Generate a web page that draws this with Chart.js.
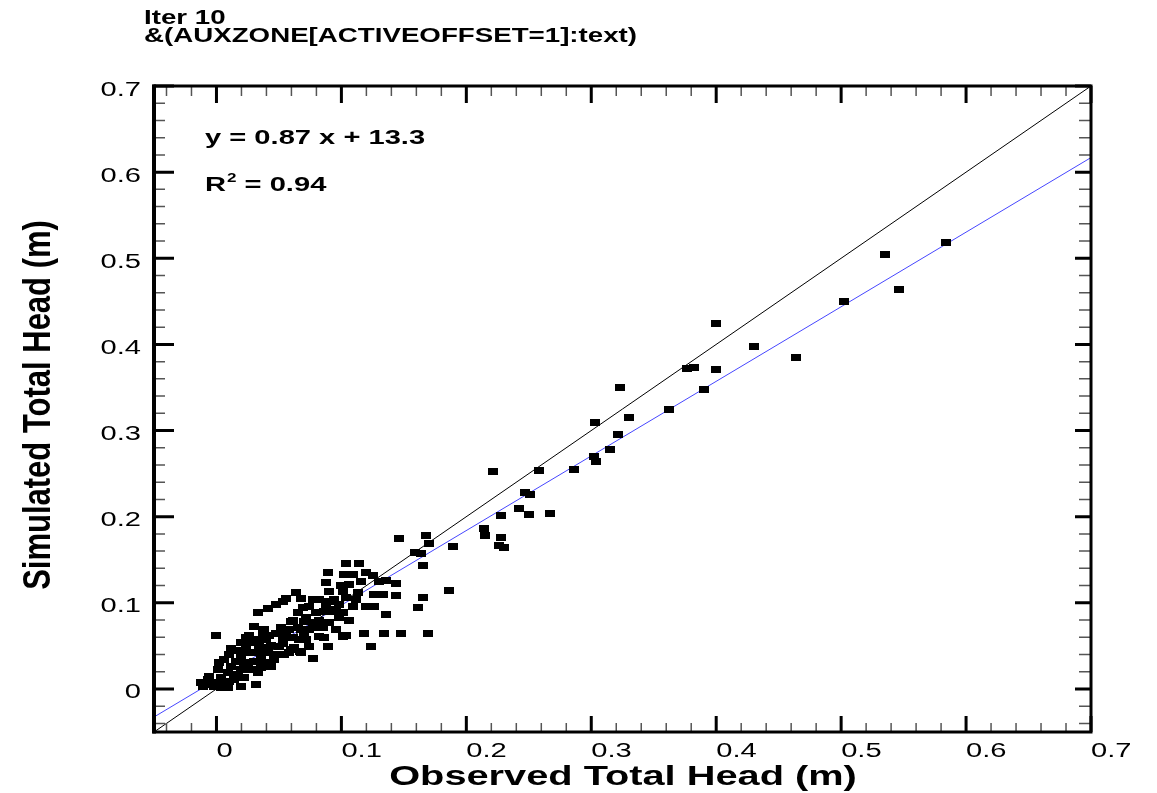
<!DOCTYPE html>
<html>
<head>
<meta charset="utf-8">
<script src="https://cdn.jsdelivr.net/npm/chart.js@4.4.0/dist/chart.umd.min.js"></script>
<style>
body { margin: 0; background: #fff; }
#wrap { width: 1157px; height: 793px; position: relative; }
</style>
</head>
<body>
<div id="wrap"><canvas id="chart"></canvas></div>
<script>
/*------Data--------*/

const observed = [
    0.584, 0.535, 0.546, 0.502, 0.464, 0.430, 0.400, 0.400, 0.377, 0.382,
    0.390, 0.362, 0.323, 0.330, 0.321, 0.315, 0.303, 0.302, 0.304, 0.286,
    0.258, 0.221, 0.247, 0.251, 0.242, 0.267, 0.250, 0.228, 0.228, 0.230,
    0.226, 0.214, 0.215, 0.189, 0.146, 0.168, 0.170, 0.159, 0.164, 0.165,
    0.186, 0.161, 0.165, 0.104, 0.114, 0.089, 0.102, 0.109, 0.120, 0.125,
    0.088, 0.116, 0.130, 0.136, 0.144, 0.100, 0.106, 0.090, 0.101, 0.113,
    0.126, 0.133, 0.144, 0.078, 0.094, 0.104, 0.112, 0.074, 0.088, 0.098,
    0.109, 0.120, 0.126, 0.136, 0.080, 0.093, 0.101, 0.070, 0.082, 0.106,
    0.074, 0.085, 0.104, 0.118, 0.134, 0.148, 0.169, 0.072, 0.086, 0.089,
    0.124, 0.077, 0.064, 0.056, 0.068, 0.053, 0.048, 0.041, 0.033, 0.077,
    0.082, 0.090, 0.069, 0.065, 0.086, 0.096, 0.061, 0.072, 0.090, 0.098,
    0.030, 0.038, 0.048, 0.056, 0.065, 0.077, 0.096, 0.024, 0.032, 0.040,
    0.053, 0.061, 0.082, 0.024, 0.037, 0.050, 0.062, 0.074, 0.101, 0.000,
    0.060, 0.068, 0.037, 0.020, 0.012, 0.028, 0.034, 0.044, 0.053, 0.060,
    0.067, 0.033, 0.025, 0.020, 0.016, 0.002, 0.041, 0.049, 0.058, 0.012,
    0.022, 0.030, 0.038, 0.046, 0.001, 0.009, 0.020, 0.028, 0.036, 0.044,
    -0.007, -0.010, -0.002, 0.006, 0.014, 0.022, 0.032, 0.009, -0.002, 0.020,
    -0.012, -0.011, -0.006, 0.017, 0.068, 0.077, 0.085, 0.006, 0.010, 0.017,
    0.026, 0.042, 0.052, 0.058, 0.066, 0.070, 0.054, 0.036, 0.025, 0.033,
    0.004, 0.010, -0.004, 0.004
];

const simulated = [
    0.518, 0.504, 0.464, 0.450, 0.385, 0.398, 0.424, 0.371, 0.372, 0.373,
    0.348, 0.324, 0.350, 0.315, 0.295, 0.278, 0.309, 0.270, 0.264, 0.255,
    0.254, 0.252, 0.228, 0.226, 0.209, 0.204, 0.202, 0.201, 0.176, 0.164,
    0.166, 0.186, 0.178, 0.165, 0.175, 0.178, 0.169, 0.158, 0.157, 0.143,
    0.114, 0.094, 0.106, 0.146, 0.146, 0.135, 0.133, 0.133, 0.135, 0.132,
    0.123, 0.125, 0.125, 0.126, 0.122, 0.120, 0.121, 0.113, 0.113, 0.112,
    0.110, 0.110, 0.108, 0.104, 0.104, 0.106, 0.104, 0.096, 0.098, 0.098,
    0.096, 0.096, 0.096, 0.086, 0.089, 0.090, 0.089, 0.078, 0.080, 0.080,
    0.069, 0.071, 0.062, 0.064, 0.064, 0.064, 0.064, 0.057, 0.060, 0.049,
    0.049, 0.035, 0.112, 0.105, 0.105, 0.101, 0.098, 0.093, 0.089, 0.104,
    0.104, 0.101, 0.094, 0.089, 0.090, 0.092, 0.080, 0.083, 0.077, 0.083,
    0.072, 0.069, 0.064, 0.065, 0.071, 0.071, 0.069, 0.060, 0.057, 0.057,
    0.057, 0.060, 0.061, 0.049, 0.048, 0.049, 0.048, 0.049, 0.061, 0.062,
    0.078, 0.069, 0.064, 0.054, 0.047, 0.054, 0.049, 0.051, 0.053, 0.046,
    0.043, 0.042, 0.042, 0.038, 0.032, 0.031, 0.042, 0.040, 0.042, 0.026,
    0.031, 0.032, 0.031, 0.034, 0.022, 0.019, 0.022, 0.022, 0.025, 0.026,
    0.011, 0.007, 0.008, 0.007, 0.011, 0.013, 0.005, 0.002, 0.003, 0.003,
    0.008, 0.003, 0.015, 0.017, 0.042, 0.077, 0.072, 0.034, 0.040, 0.045,
    0.062, 0.062, 0.071, 0.069, 0.057, 0.063, 0.040, 0.036, 0.025, 0.019,
    0.013, 0.009, 0.005, 0.002
];

const axisMin = -0.05;
const axisMax = 0.7;
const majorTicks = [0, 0.1, 0.2, 0.3, 0.4, 0.5, 0.6, 0.7];
const tickLabels = ['0', '0.1', '0.2', '0.3', '0.4', '0.5', '0.6', '0.7'];
const minorStep = 0.02;

const fitSlope = 0.866;
const fitIntercept = 0.0107;
const fitText = 'y = 0.87 x + 13.3';
const r2Value = '0.94';

const titleLines = ['Iter 10', '&(AUXZONE[ACTIVEOFFSET=1]:text)'];
const xTitle = 'Observed Total Head (m)';
const yTitle = 'Simulated Total Head (m)';

/*------Helpers--------*/

const FONT = '"Liberation Sans", Arial, sans-serif';
const SX = 1.42; // text in the picture is stretched sideways

function wideText(ctx, text, x, y, font, align, sx) {
    ctx.save();
    ctx.font = font;
    ctx.translate(x, y);
    ctx.scale(sx || SX, 1);
    ctx.textAlign = align || 'left';
    ctx.textBaseline = 'alphabetic';
    ctx.fillStyle = '#000';
    ctx.fillText(text, 0, 0);
    ctx.restore();
}

// square marker
const marker = document.createElement('canvas');
marker.width = 10;
marker.height = 7;
const mctx = marker.getContext('2d');
mctx.fillStyle = '#000';
mctx.fillRect(0, 0, 10, 7);

/*------Frame plugin--------*/

const framePlugin = {
    id: 'frame',
    afterDraw(chart) {
        const ctx = chart.ctx;
        const a = chart.chartArea;
        const xs = chart.scales.x;
        const ys = chart.scales.y;

        ctx.save();

        // minor ticks
        ctx.strokeStyle = '#555';
        ctx.lineWidth = 1.5;
        for (let v = axisMin + 0.01; v < axisMax; v += minorStep) {
            const val = Math.round(v * 100) / 100;
            if (majorTicks.some(m => Math.abs(m - val) < 1e-6)) continue;
            if (val <= axisMin) continue;
            const px = xs.getPixelForValue(val);
            const py = ys.getPixelForValue(val);
            ctx.beginPath();
            ctx.moveTo(px, a.bottom); ctx.lineTo(px, a.bottom - 9);
            ctx.moveTo(px, a.top); ctx.lineTo(px, a.top + 10);
            ctx.moveTo(a.left, py); ctx.lineTo(a.left + 11, py);
            ctx.moveTo(a.right, py); ctx.lineTo(a.right - 12, py);
            ctx.stroke();
        }

        // major ticks
        ctx.strokeStyle = '#000';
        ctx.lineWidth = 3;
        majorTicks.forEach(function (m) {
            const px = xs.getPixelForValue(m);
            const py = ys.getPixelForValue(m);
            ctx.beginPath();
            ctx.moveTo(px, a.bottom); ctx.lineTo(px, a.bottom - 16);
            ctx.moveTo(px, a.top); ctx.lineTo(px, a.top + 17);
            ctx.moveTo(a.left, py); ctx.lineTo(a.left + 20, py);
            ctx.moveTo(a.right, py); ctx.lineTo(a.right - 16, py);
            ctx.stroke();
        });

        // frame
        ctx.lineWidth = 3;
        ctx.strokeRect(a.left, a.top, a.right - a.left, a.bottom - a.top);
        ctx.lineWidth = 4;
        ctx.beginPath();
        ctx.moveTo(a.left, a.top - 1.5); ctx.lineTo(a.left, a.bottom + 1.5);
        ctx.stroke();

        // tick labels
        const tickFont = '20.5px ' + FONT;
        majorTicks.forEach(function (m, i) {
            wideText(ctx, tickLabels[i], xs.getPixelForValue(m), 757, tickFont, 'left');
            wideText(ctx, tickLabels[i], 141, ys.getPixelForValue(m) + 9.5, tickFont, 'right');
        });

        // title
        wideText(ctx, titleLines[0], 144, 24, 'bold 19.5px ' + FONT, 'left');
        wideText(ctx, titleLines[1], 144, 41.7, 'bold 19.5px ' + FONT, 'left');

        // axis titles
        wideText(ctx, xTitle, 623, 785, 'bold 28px ' + FONT, 'center');

        ctx.save();
        ctx.translate(50, 405);
        ctx.rotate(-Math.PI / 2);
        ctx.scale(1, 1.25);
        ctx.font = 'bold 31px ' + FONT;
        ctx.textAlign = 'center';
        ctx.fillStyle = '#000';
        ctx.fillText(yTitle, 0, 0);
        ctx.restore();

        // fit annotation
        const annFont = 'bold 20.5px ' + FONT;
        wideText(ctx, fitText, 205, 144, annFont, 'left');
        ctx.font = annFont;
        const rW = ctx.measureText('R').width * SX;
        wideText(ctx, 'R', 205, 191, annFont, 'left');
        wideText(ctx, '2', 205 + rW + 1, 182, 'bold 12px ' + FONT, 'left');
        ctx.font = 'bold 12px ' + FONT;
        const twoW = ctx.measureText('2').width * SX;
        wideText(ctx, ' = ' + r2Value, 205 + rW + twoW + 1, 191, annFont, 'left');

        ctx.restore();
    }
};

/*------Chart--------*/

const points = observed.map(function (x, i) {
    return { x: x, y: simulated[i] };
});

const ctx = document.getElementById('chart').getContext('2d');
const chart = new Chart(ctx, {
    type: 'scatter',
    data: {
        datasets: [{
            label: 'heads',
            data: points,
            pointStyle: marker,
            pointRadius: 5,
            showLine: false
        }, {
            label: '1:1',
            type: 'line',
            data: [{ x: axisMin, y: axisMin }, { x: axisMax, y: axisMax }],
            borderColor: '#000',
            borderWidth: 1,
            pointRadius: 0,
            fill: false
        }, {
            label: 'fit',
            type: 'line',
            data: [
                { x: axisMin, y: fitSlope * axisMin + fitIntercept },
                { x: axisMax, y: fitSlope * axisMax + fitIntercept }
            ],
            borderColor: 'rgb(70, 70, 255)',
            borderWidth: 1,
            pointRadius: 0,
            fill: false
        }]
    },
    options: {
        responsive: true,
        maintainAspectRatio: false,
        animation: false,
        layout: { padding: { left: 0, top: 86, right: 66, bottom: 0 } },
        plugins: {
            legend: { display: false },
            tooltip: { enabled: false },
            title: { display: false }
        },
        scales: {
            x: {
                type: 'linear',
                min: axisMin,
                max: axisMax,
                grid: { display: false },
                border: { display: false },
                ticks: { display: false },
                afterFit: function (scale) { scale.height = 61; }
            },
            y: {
                type: 'linear',
                min: axisMin,
                max: axisMax,
                grid: { display: false },
                border: { display: false },
                ticks: { display: false },
                afterFit: function (scale) { scale.width = 154; }
            }
        }
    },
    plugins: [framePlugin]
});
</script>
</body>
</html>
